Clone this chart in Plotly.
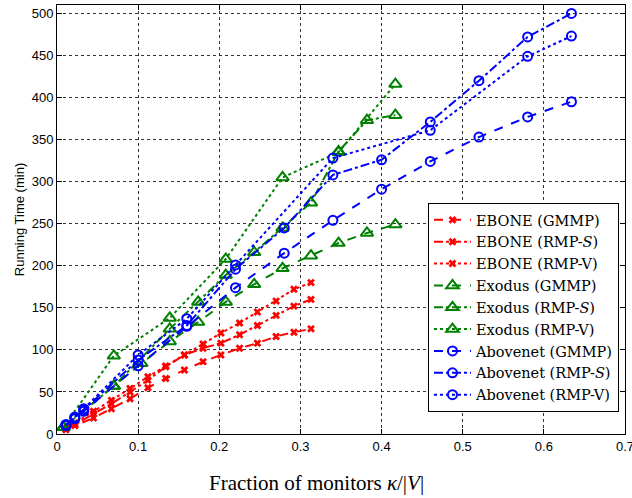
import plotly.graph_objects as go

# ---------------- data ----------------
ebone_x = [0.011, 0.022, 0.045, 0.067, 0.09, 0.112, 0.134, 0.157, 0.18, 0.202, 0.225, 0.247, 0.27, 0.292, 0.313]
ebone_gmmp = [5, 10, 19, 30, 42, 55, 66, 76, 86, 94, 102, 108, 116, 121, 125]
ebone_rmps = [6, 11, 24, 36, 50, 64, 80, 94, 102, 108, 118, 129, 141, 152, 160]
ebone_rmpv = [7, 13, 27, 40, 54, 68, 81, 94, 107, 120, 132, 145, 158, 172, 180]

exodus_x = [0.008, 0.07, 0.104, 0.139, 0.174, 0.208, 0.243, 0.278, 0.313, 0.347, 0.382, 0.417]
exodus_gmmp = [8, 57, 84, 110, 133, 157, 178, 197, 212, 227, 239, 249]
exodus_rmps_x = [0.008, 0.07, 0.139, 0.174, 0.208, 0.243, 0.278, 0.313, 0.347, 0.382, 0.417]
exodus_rmps = [8, 57, 125, 157, 189, 216, 245, 275, 336, 373, 379]
exodus_rmpv_x = [0.008, 0.07, 0.139, 0.208, 0.278, 0.347, 0.417]
exodus_rmpv = [8, 93, 138, 208, 305, 335, 416]

abv_x = [0.011, 0.022, 0.033, 0.10, 0.16, 0.22, 0.28, 0.34, 0.40, 0.46, 0.52, 0.58, 0.634]
abv_gmmp = [10, 18, 27, 81, 128, 174, 215, 254, 291, 324, 353, 377, 395]
abv_rmps = [11, 20, 29, 88, 129, 196, 245, 308, 326, 371, 420, 472, 500]
abv_rmpv_x = [0.011, 0.022, 0.033, 0.10, 0.16, 0.22, 0.34, 0.46, 0.58, 0.634]
abv_rmpv = [11, 20, 30, 94, 137, 201, 328, 361, 449, 473]

x_ticks = [0, 0.1, 0.2, 0.3, 0.4, 0.5, 0.6, 0.7]
x_tick_labels = ["0", "0.1", "0.2", "0.3", "0.4", "0.5", "0.6", "0.7"]
y_ticks = [0, 50, 100, 150, 200, 250, 300, 350, 400, 450, 500]

RED = "rgb(255,0,0)"
GREEN = "rgb(0,128,0)"
BLUE = "rgb(0,0,255)"

series = [
    ("EBONE (GMMP)", ebone_x, ebone_gmmp, RED, "dash", "x", 7),
    ("EBONE (RMP-<i>S</i>)", ebone_x, ebone_rmps, RED, "dashdot", "x", 7),
    ("EBONE (RMP-V)", ebone_x, ebone_rmpv, RED, "dot", "x", 7),
    ("Exodus (GMMP)", exodus_x, exodus_gmmp, GREEN, "dash", "triangle-up-open", 11),
    ("Exodus (RMP-<i>S</i>)", exodus_rmps_x, exodus_rmps, GREEN, "dashdot", "triangle-up-open", 11),
    ("Exodus (RMP-V)", exodus_rmpv_x, exodus_rmpv, GREEN, "dot", "triangle-up-open", 11),
    ("Abovenet (GMMP)", abv_x, abv_gmmp, BLUE, "dash", "circle-open", 9),
    ("Abovenet (RMP-<i>S</i>)", abv_x, abv_rmps, BLUE, "dashdot", "circle-open", 9),
    ("Abovenet (RMP-V)", abv_rmpv_x, abv_rmpv, BLUE, "dot", "circle-open", 9),
]

fig = go.Figure()
for name, xs, ys, col, dash, sym, sz in series:
    fig.add_trace(go.Scatter(
        x=xs, y=ys, name=name, mode="lines+markers",
        line=dict(color=col, width=2, dash=dash),
        marker=dict(symbol=sym, size=sz, color=col,
                    line=dict(color=col, width=2 if "open" in sym else 0)),
    ))

axis_common = dict(
    showline=True, linecolor="black", linewidth=1, mirror="ticks",
    ticks="inside", ticklen=5, tickcolor="black",
    showgrid=True, gridcolor="rgba(30,30,30,0.9)", griddash="dot", gridwidth=1,
    zeroline=False, automargin=False, ticklabeloverflow="allow",
    tickfont=dict(family="Liberation Sans, Arial, sans-serif", size=13, color="black"),
)

fig.update_xaxes(range=[0, 0.7], tickvals=x_ticks, ticktext=x_tick_labels, **axis_common)
fig.update_yaxes(range=[0, 510], tickvals=y_ticks,
                 title=dict(text="Running Time (min)",
                            font=dict(family="Liberation Sans, Arial, sans-serif", size=13, color="black"),
                            standoff=4),
                 **axis_common)

fig.add_annotation(
    text="Fraction of monitors <i>κ</i>/|<i>V</i>|",
    xref="paper", yref="paper", x=0.456, y=-0.114,
    xanchor="center", yanchor="middle", showarrow=False,
    font=dict(family="Liberation Serif, Times New Roman, serif", size=21, color="black"),
)

fig.update_layout(
    width=632, height=498,
    margin=dict(l=57, r=7, t=5, b=64),
    paper_bgcolor="white", plot_bgcolor="white",
    legend=dict(
        x=0.9894, xanchor="right", y=0.295, yanchor="middle",
        bgcolor="white", bordercolor="black", borderwidth=1,
        font=dict(family="DejaVu Serif, Liberation Serif, serif", size=14.5, color="black"),
        itemwidth=37, tracegroupgap=0,
    ),
    showlegend=True,
)

fig.write_html("out.html", config={"displayModeBar": False},
               post_script="document.body.style.margin='0';document.body.style.padding='0';")
